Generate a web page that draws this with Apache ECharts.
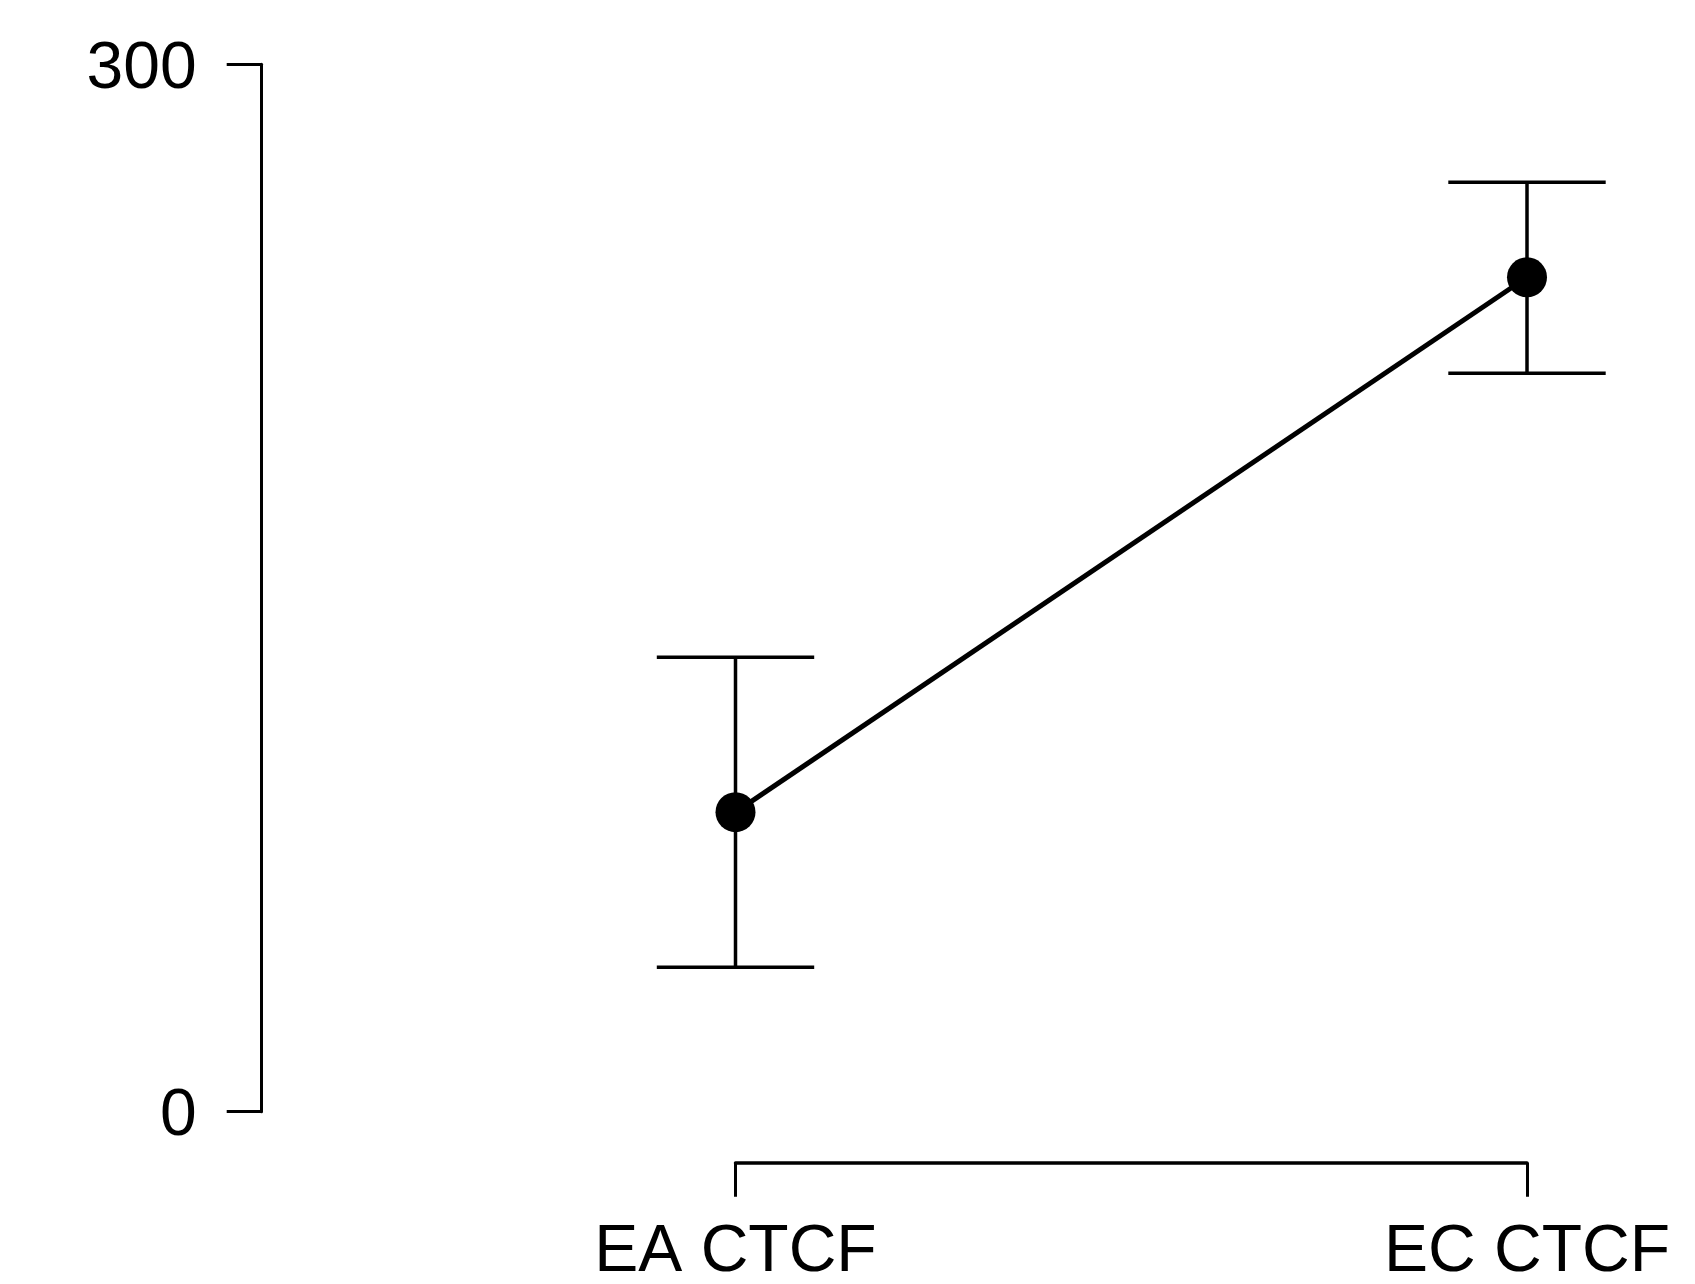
<!DOCTYPE html>
<html>
<head>
<meta charset="utf-8">
<script src="https://cdn.jsdelivr.net/npm/echarts@6/dist/echarts.min.js"></script>
<style>html,body{margin:0;padding:0;background:#fff}#c{width:1695px;height:1284px}</style>
</head>
<body>
<div id="c"></div>
<script>
const categories = ['EA CTCF', 'EC CTCF'];
const means = [85.8, 239.0];
const lowers = [41.4, 211.5];
const uppers = [130.2, 266.2];
const yTicks = [0, 300];

const chart = echarts.init(document.getElementById('c'), null, {renderer: 'canvas'});
const font = 'Liberation Sans, Arial, sans-serif';
const errData = categories.map((c, i) => [i, lowers[i], uppers[i]]);

chart.setOption({
  backgroundColor: '#fff',
  animation: false,
  grid: {left: 735.5, right: 168, top: 64.3, bottom: 172.3, containLabel: false, outerBoundsMode: 'none'},
  xAxis: {
    type: 'category', data: categories, boundaryGap: false, offset: 51,
    axisLine: {onZero: false, lineStyle: {color: '#000', width: 3.5}},
    axisTick: {show: true, length: 34, lineStyle: {color: '#000', width: 3}},
    axisLabel: {color: '#000', fontSize: 66, fontFamily: font, margin: 60, lineHeight: 60},
    splitLine: {show: false}
  },
  yAxis: {
    type: 'value', min: yTicks[0], max: yTicks[1], interval: 300, offset: 473.8,
    axisLine: {show: true, onZero: false, lineStyle: {color: '#000', width: 3}},
    axisTick: {show: true, length: 35, lineStyle: {color: '#000', width: 3}},
    axisLabel: {color: '#000', fontSize: 66, fontFamily: font, margin: 65, verticalAlign: 'top', lineHeight: 10},
    splitLine: {show: false}
  },
  series: [
    {
      type: 'custom',
      data: errData,
      renderItem: function (params, api) {
        const x = api.value(0);
        const lo = api.coord([x, api.value(1)]);
        const hi = api.coord([x, api.value(2)]);
        const hw = 78.7;
        const st = {stroke: '#000', lineWidth: 3.5};
        return {
          type: 'group',
          children: [
            {type: 'line', shape: {x1: lo[0], y1: lo[1], x2: hi[0], y2: hi[1]}, style: st},
            {type: 'line', shape: {x1: lo[0] - hw, y1: lo[1], x2: lo[0] + hw, y2: lo[1]}, style: st},
            {type: 'line', shape: {x1: hi[0] - hw, y1: hi[1], x2: hi[0] + hw, y2: hi[1]}, style: st}
          ]
        };
      },
      z: 1
    },
    {
      type: 'line',
      data: means,
      symbol: 'circle',
      symbolSize: 40,
      lineStyle: {color: '#000', width: 5},
      itemStyle: {color: '#000'},
      z: 2
    }
  ]
});
</script>
</body>
</html>
